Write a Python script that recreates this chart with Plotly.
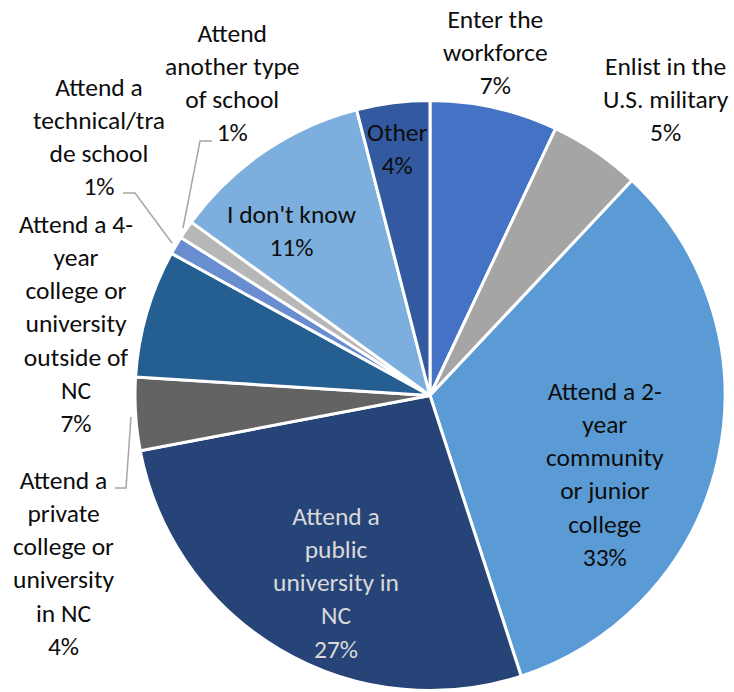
import plotly.graph_objects as go

# Post-graduation plans, share of respondents (%)
categories = [
    "Enter the workforce",
    "Enlist in the U.S. military",
    "Attend a 2-year community or junior college",
    "Attend a public university in NC",
    "Attend a private college or university in NC",
    "Attend a 4-year college or university outside of NC",
    "Attend a technical/trade school",
    "Attend another type of school",
    "I don't know",
    "Other",
]
values = [7, 5, 33, 27, 4, 7, 1, 1, 11, 4]

# Wrapped label lines as they appear on the chart
label_lines = [
    ["Enter the", "workforce"],
    ["Enlist in the", "U.S. military"],
    ["Attend a 2-", "year", "community", "or junior", "college"],
    ["Attend a", "public", "university in", "NC"],
    ["Attend a", "private", "college or", "university", "in NC"],
    ["Attend a 4-", "year", "college or", "university", "outside of", "NC"],
    ["Attend a", "technical/tra", "de school"],
    ["Attend", "another type", "of school"],
    ["I don't know"],
    ["Other"],
]

colors = [
    "#4472C4", "#A5A5A5", "#5B9BD5", "#264478", "#636363",
    "#255E91", "#698ED0", "#B7B7B7", "#7CAFDD", "#335AA1",
]

W, H = 734, 692
FONT = "Carlito, Calibri, Lato, sans-serif"

fig = go.Figure(
    go.Pie(
        labels=categories,
        values=values,
        sort=False,
        direction="clockwise",
        rotation=0,
        marker=dict(colors=colors, line=dict(color="white", width=3)),
        textinfo="none",
        hoverinfo="label+percent",
        domain=dict(x=[135 / W, 725 / W], y=[1.5 / H, 1 - 100.5 / H]),
        showlegend=False,
    )
)

# Label anchor points (pixel centres of each text block) and text colours
label_pos = [
    (495, 53), (666, 99), (605, 474), (336, 583), (63, 563),
    (76, 324), (99, 137), (232, 83), (291, 231), (397, 149),
]
label_color = ["#0D0D0D"] * len(categories)
label_color[3] = "#D9D9D9"

total = sum(values)
annotations = []
for lines, v, (px, py), col in zip(label_lines, values, label_pos, label_color):
    pct = round(100 * v / total)
    annotations.append(
        dict(
            text="<br>".join(lines + [f"{pct}%"]),
            x=px / W, y=1 - py / H, xref="paper", yref="paper",
            xanchor="center", yanchor="middle", showarrow=False,
            font=dict(family=FONT, size=25.5, color=col),
            align="center",
        )
    )

# Leader lines for the two thin slices and the private-college slice
leaders = [
    [(123, 193), (135, 193), (172, 243)],
    [(212, 141), (200, 141), (183, 228)],
    [(115, 488), (126, 488), (131, 417)],
]
shapes = []
for pts in leaders:
    path = "M " + " L ".join(f"{x / W:.5f},{1 - y / H:.5f}" for x, y in pts)
    shapes.append(
        dict(type="path", path=path, xref="paper", yref="paper",
             line=dict(color="#A6A6A6", width=1.5))
    )

fig.update_layout(
    width=W, height=H,
    margin=dict(l=0, r=0, t=0, b=0),
    paper_bgcolor="white", plot_bgcolor="white",
    annotations=annotations,
    shapes=shapes,
    font=dict(family=FONT),
)

fig.write_html("out.html")
